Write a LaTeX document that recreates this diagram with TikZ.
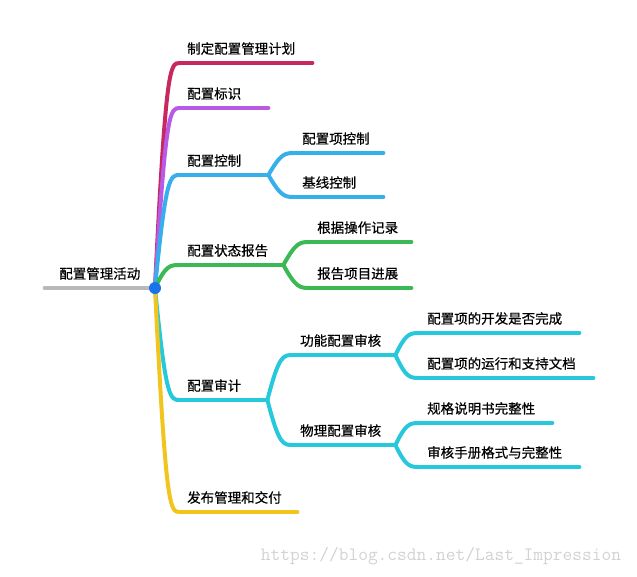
\documentclass[tikz,border=0pt]{standalone}
\usepackage{fontspec}
\usepackage{xcolor}
\usetikzlibrary{calc}
\newfontfamily\cjk{Noto Sans CJK SC}[FakeBold=0.5]
\definecolor{rootgray}{RGB}{185,185,185}
\definecolor{planred}{RGB}{198,40,95}
\definecolor{identpurple}{RGB}{185,90,230}
\definecolor{ctrlblue}{RGB}{55,175,235}
\definecolor{statgreen}{RGB}{60,185,85}
\definecolor{auditcyan}{RGB}{40,200,220}
\definecolor{relyellow}{RGB}{242,196,30}
\definecolor{hubblue}{RGB}{25,115,235}

\begin{document}
\begin{tikzpicture}[
    x=1pt, y=-1pt,
    topic/.style={anchor=south west, inner xsep=7pt, inner ysep=8pt, align=left, font=\cjk\fontsize{13.5}{16}\selectfont, text width=#1},
    branch/.style={line width=4pt, line cap=round, draw=#1},
    link/.style={to path={.. controls ($(\tikztotarget)+(-14,0)$) and ($(\tikztotarget)+(-10,0)$) .. (\tikztotarget)}},
    dot/.style={circle, fill=hubblue, inner sep=0pt, minimum size=12pt}
]
    \useasboundingbox (0,0) rectangle (637,576);
    \coordinate (hub) at (155,288);
    \node[topic=96pt, align=center, anchor=south east] (root) at (hub) {配置管理活动};

    % main branches
    \node[topic=118pt] (plan) at (180,63) {制定配置管理计划};
    \node[topic=74pt] (ident) at (180,108) {配置标识};
    \node[topic=74pt] (ctrl) at (180,175) {配置控制};
    \node[topic=89pt] (status) at (180,265) {配置状态报告};
    \node[topic=73pt] (audit) at (180,400) {配置审计};
    \node[topic=103pt] (release) at (180,512) {发布管理和交付};

    % second level
    \node[topic=74pt] (itemctrl) at (295,153) {配置项控制};
    \node[topic=74pt] (basectrl) at (295,197) {基线控制};
    \node[topic=87pt] (oprec) at (310,242) {根据操作记录};
    \node[topic=87pt] (progress) at (310,288) {报告项目进展};
    \node[topic=88pt] (funcaudit) at (293,355) {功能配置审核};
    \node[topic=88pt] (physaudit) at (293,445) {物理配置审核};

    % third level
    \node[topic=145pt] (devdone) at (420,333) {配置项的开发是否完成};
    \node[topic=159pt] (docs) at (420,378) {配置项的运行和支持文档};
    \node[topic=118pt] (spec) at (420,423) {规格说明书完整性};
    \node[topic=145pt] (manual) at (420,467) {审核手册格式与完整性};

    \node[font=\ttfamily\fontsize{18.9}{20}\selectfont, text=gray!35] (mark) at (441,556) {https://blog.csdn.net/Last\_Impression};

    % underlines
    \foreach \n/\c in {root/rootgray, plan/planred, ident/identpurple, ctrl/ctrlblue, status/statgreen, audit/auditcyan, release/relyellow,
        itemctrl/ctrlblue, basectrl/ctrlblue, oprec/statgreen, progress/statgreen, funcaudit/auditcyan, physaudit/auditcyan,
        devdone/auditcyan, docs/auditcyan, spec/auditcyan, manual/auditcyan}
        \draw[branch=\c] (\n.south west) -- (\n.south east);

    % curves
    \foreach \n/\c in {plan/planred, ident/identpurple, ctrl/ctrlblue, status/statgreen, audit/auditcyan, release/relyellow}
        \draw[branch=\c] (hub) to[link] (\n.south west);
    \draw[branch=ctrlblue] (ctrl.south east) to[link] (itemctrl.south west);
    \draw[branch=ctrlblue] (ctrl.south east) to[link] (basectrl.south west);
    \draw[branch=statgreen] (status.south east) to[link] (oprec.south west);
    \draw[branch=statgreen] (status.south east) to[link] (progress.south west);
    \draw[branch=auditcyan] (audit.south east) to[link] (funcaudit.south west);
    \draw[branch=auditcyan] (audit.south east) to[link] (physaudit.south west);
    \draw[branch=auditcyan] (funcaudit.south east) to[link] (devdone.south west);
    \draw[branch=auditcyan] (funcaudit.south east) to[link] (docs.south west);
    \draw[branch=auditcyan] (physaudit.south east) to[link] (spec.south west);
    \draw[branch=auditcyan] (physaudit.south east) to[link] (manual.south west);

    \node[dot] (hubdot) at (hub) {};
\end{tikzpicture}
\end{document}
